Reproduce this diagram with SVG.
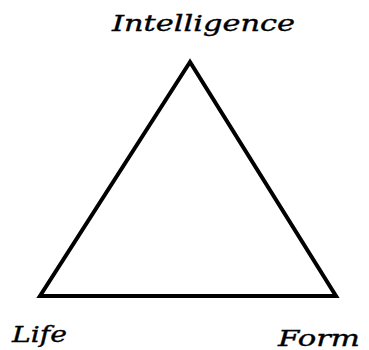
<svg xmlns="http://www.w3.org/2000/svg" width="369" height="350" viewBox="0 0 369 350">
<style>
.lbl{font-family:"DejaVu Serif","Liberation Serif",serif;font-style:italic;font-size:23px;fill:#000;stroke:#000;stroke-width:0.4}
.edge{fill:none;stroke:#000;stroke-width:4;stroke-linejoin:miter}
</style>
<rect width="369" height="350" fill="#fff"/>
<g id="connectors">
<polygon class="edge" points="190,62 40,296 336,296"/>
</g>
<g id="intelligence"><text class="lbl" x="112" y="31" textLength="183" lengthAdjust="spacingAndGlyphs">Intelligence</text></g>
<g id="life"><text class="lbl" x="12" y="342" textLength="55" lengthAdjust="spacingAndGlyphs">Life</text></g>
<g id="form"><text class="lbl" x="278" y="346" textLength="82" lengthAdjust="spacingAndGlyphs">Form</text></g>
</svg>
